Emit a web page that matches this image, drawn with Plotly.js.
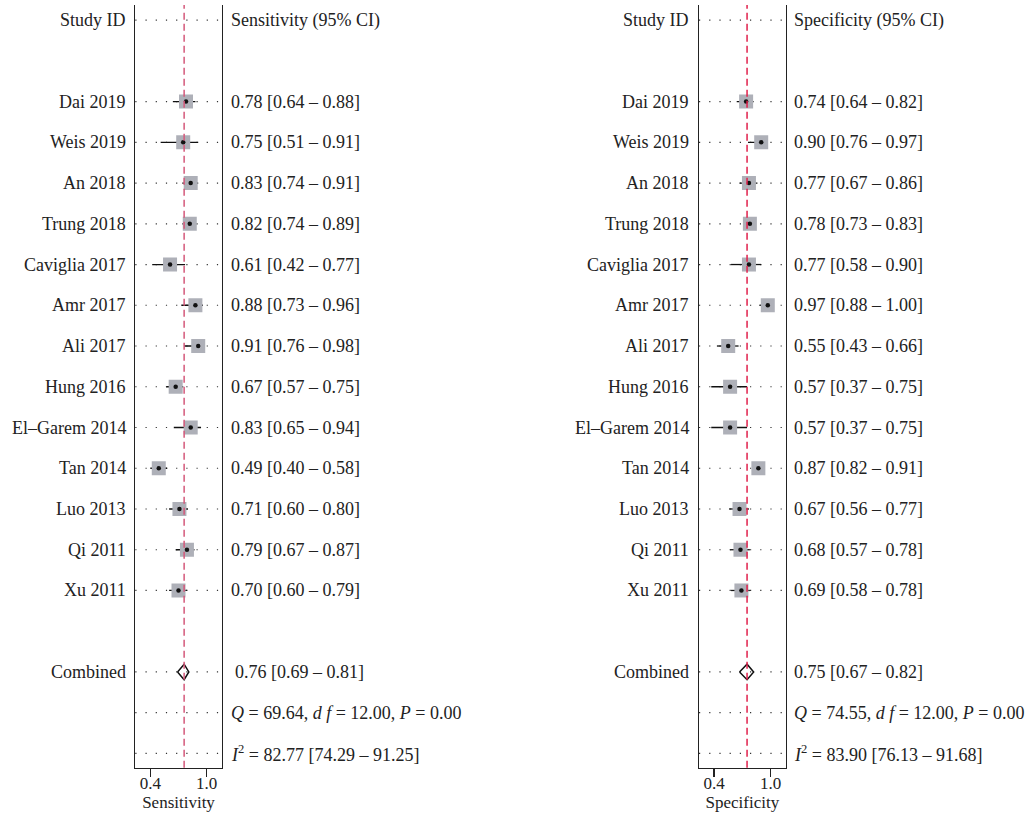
<!DOCTYPE html>
<html>
<head>
<meta charset="utf-8">
<script src="https://cdn.plot.ly/plotly-3.0.1.min.js"></script>
<style>html,body{margin:0;padding:0;background:#fff;}#chart{width:1031px;height:820px;}</style>
</head>
<body>
<div id="chart"></div>
<script>
const studies = ["Dai 2019","Weis 2019","An 2018","Trung 2018","Caviglia 2017","Amr 2017","Ali 2017","Hung 2016","El\u2013Garem 2014","Tan 2014","Luo 2013","Qi 2011","Xu 2011"];
const sensEst = [0.78,0.75,0.83,0.82,0.61,0.88,0.91,0.67,0.83,0.49,0.71,0.79,0.70];
const sensLo  = [0.64,0.51,0.74,0.74,0.42,0.73,0.76,0.57,0.65,0.40,0.60,0.67,0.60];
const sensHi  = [0.88,0.91,0.91,0.89,0.77,0.96,0.98,0.75,0.94,0.58,0.80,0.87,0.79];
const specEst = [0.74,0.90,0.77,0.78,0.77,0.97,0.55,0.57,0.57,0.87,0.67,0.68,0.69];
const specLo  = [0.64,0.76,0.67,0.73,0.58,0.88,0.43,0.37,0.37,0.82,0.56,0.57,0.58];
const specHi  = [0.82,0.97,0.86,0.83,0.90,1.00,0.66,0.75,0.75,0.91,0.77,0.78,0.78];
const sensComb = [0.76,0.69,0.81];
const specComb = [0.75,0.67,0.82];
const sensQ = ["69.64","12.00","0.00"];
const specQ = ["74.55","12.00","0.00"];
const sensI2 = ["82.77","74.29","91.25"];
const specI2 = ["83.90","76.13","91.68"];
const tickVals = [0.4, 1.0];
const tickText = ["0.4","1.0"];

const W = 1031, H = 820;
const FONT = "Liberation Serif, Times New Roman, serif";
const FS = 18;
const studyRows = studies.map((s,i)=>i+2);
const combRow = 16, qRow = 17, i2Row = 18;
const allRows = [0].concat(studyRows, [combRow, qRow, i2Row]);

const panels = [
  {xa:'x', xname:'xaxis', dom:[135.3/W, 221.7/W], est:sensEst, lo:sensLo, hi:sensHi, comb:sensComb, q:sensQ, i2:sensI2,
   head:"Sensitivity (95% CI)", title:"Sensitivity", labX:128/W, txtX:229/W, red:"#d4587a"},
  {xa:'x2', xname:'xaxis2', dom:[699/W, 785.7/W], est:specEst, lo:specLo, hi:specHi, comb:specComb, q:specQ, i2:specI2,
   head:"Specificity (95% CI)", title:"Specificity", labX:691/W, txtX:792/W, red:"#e0204c"}
];

const traces = [];
const annotations = [];
const shapes = [];
const layout = {
  width: W, height: H,
  margin: {l:0, r:0, t:0, b:0},
  paper_bgcolor: "#fff", plot_bgcolor: "#fff",
  showlegend: false,
  font: {family: FONT, size: FS, color: "#222"},
  yaxis: {domain:[1-767.7/H, 1-5/H], range:[18.35,-0.37], showline:true, mirror:true, linecolor:"#222", linewidth:1.5,
          showgrid:false, zeroline:false, showticklabels:false, ticks:"", fixedrange:true},
  yaxis2: {domain:[1-767.7/H, 1-5/H], range:[18.35,-0.37], anchor:'x2', showline:true, mirror:true, linecolor:"#222", linewidth:1.5,
          showgrid:false, zeroline:false, showticklabels:false, ticks:"", fixedrange:true},
  annotations: annotations, shapes: shapes
};

panels.forEach((p, pi) => {
  const ya = pi === 0 ? 'y' : 'y2';
  layout[p.xname] = {domain:p.dom, range:[0.24,1.16], anchor: ya, showline:true, mirror:false, linecolor:"#222", linewidth:1.5,
    showgrid:false, zeroline:false, tickvals:tickVals, ticktext:tickText, ticks:"outside", ticklen:8, tickwidth:1.5, tickcolor:"#222",
    ticklabelstandoff:-9,
    tickfont:{family:FONT, size:FS-1, color:"#222"},
    title:{text:p.title, font:{family:FONT, size:FS-1, color:"#222"}, standoff:0}, fixedrange:true};
  allRows.forEach(r => {
    shapes.push({type:'line', xref:p.xa+' domain', yref:ya, x0:0, x1:1, y0:r, y1:r,
      line:{color:"#333", width:1.2, dash:"1.2px,9px"}, layer:'below'});
  });
  shapes.push({type:'line', xref:p.xa, yref:ya+' domain', x0:p.comb[0], x1:p.comb[0], y0:0, y1:1,
    line:{color:p.red, width:1.5, dash:"7px,4px"}, layer:'above'});
  studies.forEach((s,i) => {
    traces.push({type:'scatter', mode:'lines', xaxis:p.xa, yaxis:ya, x:[p.lo[i], p.hi[i]], y:[studyRows[i], studyRows[i]],
      line:{color:"#111", width:1.3}, hoverinfo:'skip'});
  });
  traces.push({type:'scatter', mode:'markers', xaxis:p.xa, yaxis:ya, x:p.est, y:studyRows,
    marker:{symbol:'square', size:14, color:"#aeb0b8", line:{width:0}}, hoverinfo:'skip'});
  traces.push({type:'scatter', mode:'markers', xaxis:p.xa, yaxis:ya, x:p.est, y:studyRows,
    marker:{symbol:'circle', size:4.5, color:"#111", line:{width:0}}, hoverinfo:'skip'});
  const c = p.comb, h = 0.19;
  traces.push({type:'scatter', mode:'lines', xaxis:p.xa, yaxis:ya,
    x:[c[1], c[0], c[2], c[0], c[1]], y:[combRow, combRow-h, combRow, combRow+h, combRow],
    line:{color:"#111", width:1.5}, hoverinfo:'skip'});

  const labels = ["Study ID"].concat(studies, ["Combined"]);
  const labRows = [0].concat(studyRows, [combRow]);
  labels.forEach((t,i) => {
    annotations.push({xref:'paper', yref:ya, x:p.labX, y:labRows[i], text:t, showarrow:false, xanchor:'right', yanchor:'middle',
      font:{family:FONT, size:FS, color:"#222"}});
  });
  const rt = [p.head].concat(studies.map((s,i)=>p.est[i].toFixed(2)+" ["+p.lo[i].toFixed(2)+" \u2013 "+p.hi[i].toFixed(2)+"]"));
  const rtRows = [0].concat(studyRows);
  rt.forEach((t,i) => {
    annotations.push({xref:'paper', yref:ya, x:p.txtX, y:rtRows[i], text:t, showarrow:false, xanchor:'left', yanchor:'middle',
      font:{family:FONT, size:FS, color:"#222"}});
  });
  annotations.push({xref:'paper', yref:ya, x:p.txtX + (pi===0?4/W:0), y:combRow,
    text:c[0].toFixed(2)+" ["+c[1].toFixed(2)+" \u2013 "+c[2].toFixed(2)+"]", showarrow:false, xanchor:'left', yanchor:'middle',
    font:{family:FONT, size:FS, color:"#222"}});
  annotations.push({xref:'paper', yref:ya, x:p.txtX, y:qRow,
    text:"<i>Q</i> = "+p.q[0]+", <i>d f</i> = "+p.q[1]+", <i>P</i> = "+p.q[2], showarrow:false, xanchor:'left', yanchor:'middle',
    font:{family:FONT, size:FS, color:"#222"}});
  annotations.push({xref:'paper', yref:ya, x:p.txtX, y:i2Row,
    text:"<i>I</i><sup>2</sup> = "+p.i2[0]+" ["+p.i2[1]+" \u2013 "+p.i2[2]+"]", showarrow:false, xanchor:'left', yanchor:'middle',
    font:{family:FONT, size:FS, color:"#222"}});
});

Plotly.newPlot('chart', traces, layout, {staticPlot:true, displayModeBar:false});
</script>
</body>
</html>
